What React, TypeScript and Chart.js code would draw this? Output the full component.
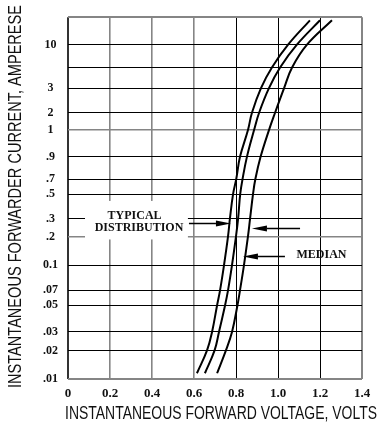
import React, { useEffect, useRef } from "react";
import { Chart, registerables } from "chart.js";

Chart.register(...registerables);

// ---- axis ticks ----
const voltageTicks = [0, 0.2, 0.4, 0.6, 0.8, 1.0, 1.2, 1.4];
const voltageTickLabels = ["0", "0.2", "0.4", "0.6", "0.8", "1.0", "1.2", "1.4"];

const currentTicks = [0.01, 0.02, 0.03, 0.05, 0.07, 0.1, 0.2, 0.3, 0.5, 0.7, 0.9, 1, 2, 3, 5, 10];
const currentTickLabels = [".01", ".02", ".03", ".05", ".07", "0.1", ".2", ".3", ".5", ".7", ".9", "1", "2", "3", "", "10", ""];
// where each current grid line sits on the printed (non-uniform) scale, 0 = bottom, 100 = top
const currentTickPositions = [0, 7.9, 13.0, 20.4, 24.5, 31.5, 39.4, 44.3, 51.1, 55.2, 61.4, 68.8, 73.6, 80.4, 86.1, 92.4];
const gridTop = 100;

// ---- curves: forward voltage (V) at each current (A) ----
const curveCurrents = [0.0115, 0.02, 0.03, 0.05, 0.07, 0.1, 0.2, 0.3, 0.5, 0.7, 0.9, 1, 2, 3, 5, 10, 21];
const lowVoltages = [0.614, 0.662, 0.686, 0.71, 0.724, 0.743, 0.762, 0.771, 0.786, 0.801, 0.819, 0.857, 0.876, 0.919, 0.971, 1.048, 1.152];
const medianVoltages = [0.652, 0.698, 0.719, 0.748, 0.762, 0.781, 0.8, 0.81, 0.82, 0.831, 0.852, 0.886, 0.91, 0.957, 1.01, 1.09, 1.2];
const highVoltages = [0.71, 0.752, 0.781, 0.807, 0.819, 0.838, 0.857, 0.867, 0.881, 0.892, 0.917, 0.957, 0.986, 1.029, 1.067, 1.138, 1.257];

// ---- annotations (voltage, current) ----
const typicalLines = ["TYPICAL", "DISTRIBUTION"];
const typicalVoltages = [0.317, 0.338];
const typicalCurrents = [0.319, 0.242];
const typicalBoxVoltages = [0.081, 0.571];
const typicalBoxCurrents = [0.434, 0.186];
const medianText = "MEDIAN";
const medianTextVoltage = 1.207;
const medianTextCurrent = 0.1285;
const arrowFromVoltages = [0.576, 1.105, 1.033];
const arrowToVoltages = [0.776, 0.876, 0.833];
const arrowCurrents = [0.271, 0.242, 0.124];

const xTitle = "INSTANTANEOUS FORWARD VOLTAGE, VOLTS";
const yTitle = "INSTANTANEOUS FORWARDER CURRENT, AMPERESE";

function currentToPosition(c: number): number {
  const t = currentTicks;
  const p = currentTickPositions;
  let i = 0;
  if (c <= t[0]) i = 0;
  else if (c >= t[t.length - 1]) i = t.length - 2;
  else {
    while (!(c >= t[i] && c <= t[i + 1])) i++;
  }
  const f = (Math.log(c) - Math.log(t[i])) / (Math.log(t[i + 1]) - Math.log(t[i]));
  return p[i] + f * (p[i + 1] - p[i]);
}

const GRAY = "#858585";
const xGridColors = ["#333", GRAY, GRAY, GRAY, "#000", "#000", "#000", GRAY];
const xGridWidths = [2, 1.6, 1.6, 1.6, 1, 1, 1, 2];
const yGridColors = [GRAY, "#000", "#000", "#000", "#000", "#000", GRAY, "#000", "#000", "#000", "#000", GRAY, "#000", "#000", "#000", "#000", GRAY];
const yGridWidths = [2, 1, 1, 1, 1, 1, 1.6, 1, 1, 1, 1, 1.6, 1, 1, 1, 1, 2];

const serif = '"Liberation Serif", "Times New Roman", serif';
const sans = '"Liberation Sans", Arial, sans-serif';

function drawArrow(ctx: CanvasRenderingContext2D, x0: number, x1: number, y: number) {
  const dir = Math.sign(x1 - x0);
  const headLen = 15;
  const half = 3;
  ctx.strokeStyle = "#000";
  ctx.fillStyle = "#000";
  ctx.lineWidth = 1.5;
  ctx.beginPath();
  ctx.moveTo(x0, y);
  ctx.lineTo(x1 - dir * headLen, y);
  ctx.stroke();
  ctx.beginPath();
  ctx.moveTo(x1, y);
  ctx.lineTo(x1 - dir * headLen, y - half);
  ctx.lineTo(x1 - dir * headLen, y + half);
  ctx.closePath();
  ctx.fill();
}

const overlayPlugin = {
  id: "overlay",
  beforeDraw(chart: any) {
    const { ctx, width, height } = chart;
    ctx.save();
    ctx.fillStyle = "#fff";
    ctx.fillRect(0, 0, width, height);
    ctx.restore();
  },
  afterDatasetsDraw(chart: any) {
    const { ctx } = chart;
    const xs = chart.scales.x;
    const ys = chart.scales.y;
    const X = (v: number) => xs.getPixelForValue(v);
    const Y = (c: number) => ys.getPixelForValue(currentToPosition(c));
    ctx.save();
    // white label box over the grid
    const bx0 = X(typicalBoxVoltages[0]);
    const bx1 = X(typicalBoxVoltages[1]);
    const by0 = Y(typicalBoxCurrents[0]);
    const by1 = Y(typicalBoxCurrents[1]);
    ctx.fillStyle = "#fff";
    ctx.fillRect(bx0, by0, bx1 - bx0, by1 - by0);

    ctx.fillStyle = "#111";
    ctx.font = `bold 12px ${serif}`;
    ctx.textAlign = "center";
    ctx.textBaseline = "middle";
    typicalLines.forEach((t, i) => ctx.fillText(t, X(typicalVoltages[i]), Y(typicalCurrents[i])));
    ctx.fillText(medianText, X(medianTextVoltage), Y(medianTextCurrent));

    arrowFromVoltages.forEach((v, i) => {
      drawArrow(ctx, X(v), X(arrowToVoltages[i]), Math.round(Y(arrowCurrents[i])) + 0.5);
    });

    // axis titles
    ctx.fillStyle = "#111";
    ctx.font = `18px ${sans}`;
    ctx.textAlign = "center";
    ctx.textBaseline = "alphabetic";
    ctx.fillText(xTitle, 221, 419, 312);
    ctx.translate(20.5, 196.5);
    ctx.rotate(-Math.PI / 2);
    ctx.fillText(yTitle, 0, 0, 383);
    ctx.restore();
  },
};

function makeDataset(voltages: number[]) {
  return {
    data: voltages.map((v, i) => ({ x: v, y: currentToPosition(curveCurrents[i]) })),
    borderColor: "#000",
    borderWidth: 2,
    pointRadius: 0,
    fill: false,
    tension: 0.4,
  };
}

export default function App() {
  const ref = useRef<HTMLCanvasElement>(null);
  useEffect(() => {
    if (!ref.current) return;
    const chart = new Chart(ref.current, {
      type: "line",
      data: {
        datasets: [makeDataset(lowVoltages), makeDataset(medianVoltages), makeDataset(highVoltages)],
      },
      options: {
        animation: false,
        responsive: false,
        maintainAspectRatio: false,
        devicePixelRatio: 1,
        layout: { padding: { top: 11, right: 18, left: 0, bottom: 0 } },
        plugins: { legend: { display: false }, tooltip: { enabled: false }, title: { display: false } },
        scales: {
          x: {
            type: "linear",
            min: 0,
            max: 1.4,
            afterBuildTicks: (s: any) => {
              s.ticks = voltageTicks.map((v) => ({ value: v }));
            },
            afterFit: (s: any) => {
              s.height = 61;
            },
            ticks: {
              autoSkip: false,
              maxRotation: 0,
              padding: 7,
              color: "#111",
              font: { family: serif, size: 13, weight: "bold" },
              callback: (_v: any, i: number) => voltageTickLabels[i],
            },
            grid: {
              drawTicks: false,
              color: (c: any) => xGridColors[c.index] ?? "#000",
              lineWidth: (c: any) => xGridWidths[c.index] ?? 1,
            },
            border: { display: false },
          },
          y: {
            type: "linear",
            min: 0,
            max: gridTop,
            afterBuildTicks: (s: any) => {
              s.ticks = [...currentTickPositions, gridTop].map((v) => ({ value: v }));
            },
            afterFit: (s: any) => {
              s.width = 68;
            },
            ticks: {
              autoSkip: false,
              crossAlign: "center",
              padding: 10,
              color: "#111",
              font: { family: serif, size: 12, weight: "bold" },
              callback: (_v: any, i: number) => currentTickLabels[i] ?? "",
            },
            grid: {
              drawTicks: false,
              color: (c: any) => yGridColors[c.index] ?? "#000",
              lineWidth: (c: any) => yGridWidths[c.index] ?? 1,
            },
            border: { display: false },
          },
        },
      } as any,
      plugins: [overlayPlugin],
    });
    return () => chart.destroy();
  }, []);
  return (
    <div style={{ position: "absolute", left: 0, top: 0, width: 380, height: 440, background: "#fff" }}>
      <canvas ref={ref} width={380} height={440} style={{ display: "block", width: 380, height: 440 }} />
    </div>
  );
}
